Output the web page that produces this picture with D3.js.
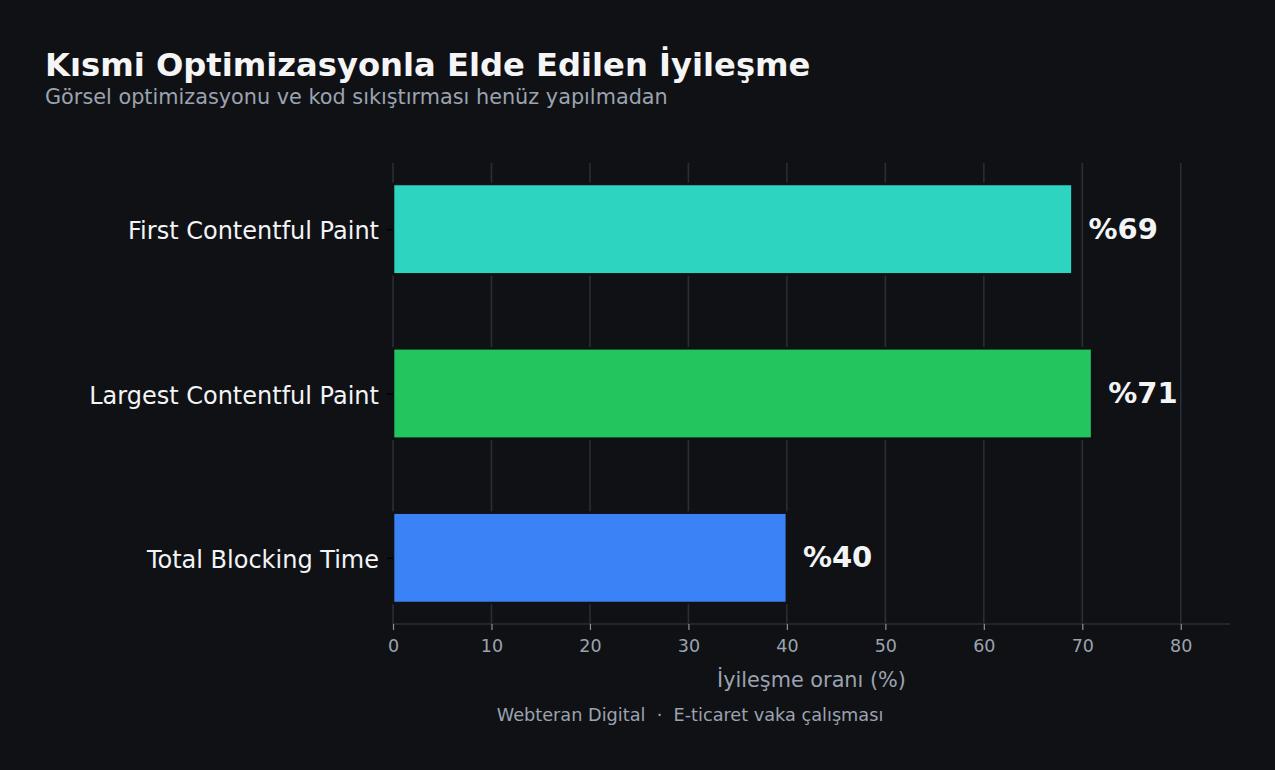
<!DOCTYPE html>
<html><head><meta charset="utf-8">
<script src="https://cdn.jsdelivr.net/npm/d3@7"></script>
<style>html,body{margin:0;padding:0;background:#0f1115;}svg{display:block;}</style>
</head><body>
<script>
const categories = ["First Contentful Paint", "Largest Contentful Paint", "Total Blocking Time"];
const values = [69, 71, 40];
const barColors = ["#2dd4bf", "#22c55e", "#3b82f6"];
const xTicks = [0, 10, 20, 30, 40, 50, 60, 70, 80];
const valueLabels = ["%69", "%71", "%40"];

(function () {
const W = 1275, H = 770;
const bg = "#0f1115";
const font = "DejaVu Sans, Verdana, sans-serif";
const svg = d3.select("body").append("svg").attr("width", W).attr("height", H);
svg.append("rect").attr("width", W).attr("height", H).attr("fill", bg);

const pL = 393, pR = 1230, pT = 163, pB = 624;
const x = d3.scaleLinear().domain([0, 85]).range([pL, pR]);
const y = d3.scaleLinear().domain([-0.4025, 2.4025]).range([pT, pB]);
const bh = 0.55;

// grid
svg.append("g").selectAll("line").data(xTicks).join("line")
  .attr("x1", d => x(d)).attr("x2", d => x(d)).attr("y1", pT).attr("y2", pB)
  .attr("stroke", "#2a2e35").attr("stroke-width", 1.6);

// bars
svg.append("g").selectAll("rect").data(values).join("rect")
  .attr("x", x(0)).attr("y", (d, i) => y(i - bh / 2))
  .attr("width", d => x(d) - x(0)).attr("height", y(bh) - y(0))
  .attr("fill", (d, i) => barColors[i])
  .attr("stroke", bg).attr("stroke-width", 2.6);

// x axis
const xAxis = d3.axisBottom(x).tickValues(xTicks).tickSize(6).tickPadding(10).tickFormat(d3.format("d"));
const gx = svg.append("g").attr("transform", `translate(0,${pB})`).call(xAxis);
gx.select(".domain").attr("stroke", "#2a2e35").attr("stroke-width", 1.6).attr("d", `M${pL},0H${pR}`);
gx.selectAll(".tick line").attr("stroke", "#8b929c").attr("stroke-width", 1.2);
gx.selectAll(".tick text").attr("fill", "#9ca3af").attr("font-size", 17.5).attr("font-family", font);

// y axis
const yAxis = d3.axisLeft(y).tickValues([0, 1, 2]).tickSize(6).tickPadding(8).tickFormat((d) => categories[d]);
const gy = svg.append("g").attr("transform", `translate(${pL},0)`).call(yAxis);
gy.select(".domain").remove();
gy.selectAll(".tick line").attr("stroke", "#000").attr("stroke-width", 1.2);
gy.selectAll(".tick text").attr("fill", "#f3f4f6").attr("font-size", 24).attr("font-family", font).attr("dy", "0.4em");

// value labels
svg.append("g").selectAll("text").data(values).join("text")
  .attr("x", d => x(d) + 16).attr("y", (d, i) => y(i)).attr("dy", "0.33em")
  .attr("fill", "#f3f4f6").attr("font-size", 29).attr("font-weight", "bold").attr("font-family", font)
  .text((d, i) => valueLabels[i]);

// titles
svg.append("text").attr("x", 45).attr("y", 76).attr("fill", "#f5f5f5")
  .attr("font-size", 32.2).attr("font-weight", "bold").attr("font-family", font)
  .text("Kısmi Optimizasyonla Elde Edilen İyileşme");
svg.append("text").attr("x", 45).attr("y", 104).attr("fill", "#9ca3af")
  .attr("font-size", 20.8).attr("font-family", font)
  .text("Görsel optimizasyonu ve kod sıkıştırması henüz yapılmadan");
svg.append("text").attr("x", (pL + pR) / 2).attr("y", 687).attr("text-anchor", "middle")
  .attr("fill", "#9ca3af").attr("font-size", 20.8).attr("font-family", font)
  .text("İyileşme oranı (%)");
svg.append("text").attr("x", 690).attr("y", 721).attr("text-anchor", "middle")
  .attr("fill", "#9ca3af").attr("font-size", 17.7).attr("font-family", font)
  .style("white-space", "pre")
  .text("Webteran Digital  ·  E-ticaret vaka çalışması");
})();
</script>
</body></html>
